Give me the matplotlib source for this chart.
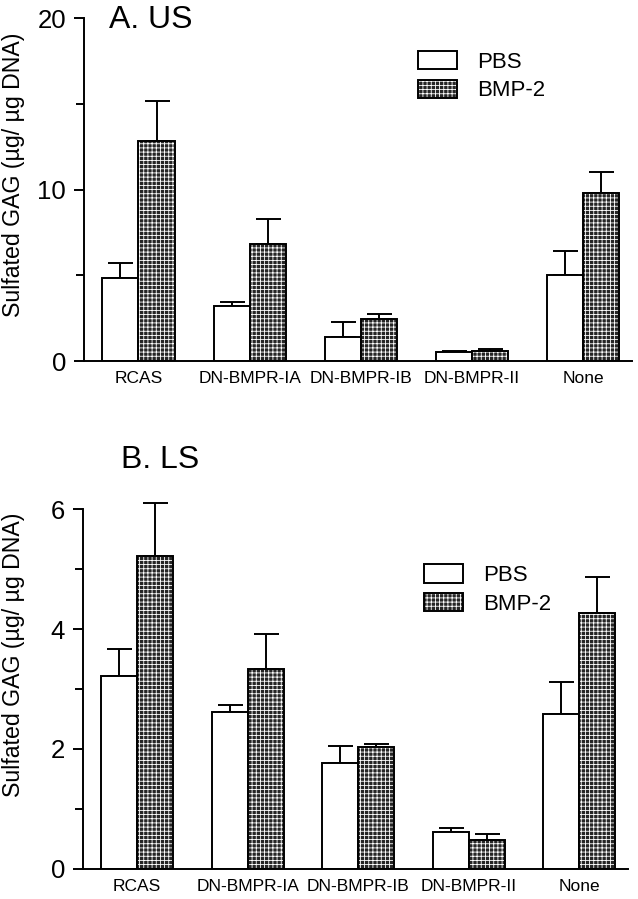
import numpy as np
import matplotlib
matplotlib.use('Agg')
import matplotlib.pyplot as plt
from matplotlib.patches import Patch
from matplotlib.legend_handler import HandlerTuple

plt.rcParams['font.family'] = ['Liberation Sans', 'DejaVu Sans']
plt.rcParams['hatch.linewidth'] = 0.6

# Données
categories = ['RCAS', 'DN-BMPR-IA', 'DN-BMPR-IB', 'DN-BMPR-II', 'None']
us_pbs = [4.85, 3.2, 1.4, 0.5, 5.0]
us_pbs_err = [0.85, 0.25, 0.9, 0.1, 1.4]
us_bmp = [12.85, 6.85, 2.45, 0.6, 9.8]
us_bmp_err = [2.3, 1.45, 0.3, 0.1, 1.25]
ls_pbs = [3.22, 2.62, 1.77, 0.62, 2.58]
ls_pbs_err = [0.45, 0.11, 0.28, 0.06, 0.54]
ls_bmp = [5.22, 3.33, 2.03, 0.48, 4.27]
ls_bmp_err = [0.88, 0.59, 0.05, 0.1, 0.6]

largeur = 0.325
x = np.arange(len(categories))
fig = plt.figure(figsize=(6.38, 8.99), dpi=100)

FOND = '#262626'
MOTIF = '++++'


def panneau(ax, pbs, pbs_err, bmp, bmp_err, ymax, major, minor, titre, pos_titre, pos_leg, pos_label):
    # Barres PBS (blanches)
    ax.bar(x - largeur / 2, pbs, largeur, color='white', edgecolor='black', linewidth=1.4, zorder=2)
    # Barres BMP-2 (motif quadrillé)
    ax.bar(x + largeur / 2, bmp, largeur, color=FOND, edgecolor='white', hatch=MOTIF,
           linewidth=0, zorder=2)
    ax.bar(x + largeur / 2, bmp, largeur, color='none', edgecolor='black', linewidth=1.4, zorder=3)
    # Barres d'erreur (seulement vers le haut)
    ax.errorbar(x - largeur / 2, pbs, yerr=[np.zeros(5), pbs_err], fmt='none', ecolor='black',
                elinewidth=1.4, capsize=9, capthick=1.4, zorder=1, clip_on=False)
    ax.errorbar(x + largeur / 2, bmp, yerr=[np.zeros(5), bmp_err], fmt='none', ecolor='black',
                elinewidth=1.4, capsize=9, capthick=1.4, zorder=1, clip_on=False)

    ax.set_xlim(-0.49, 4.44)
    ax.set_ylim(0, ymax)
    ax.spines['top'].set_visible(False)
    ax.spines['right'].set_visible(False)
    ax.spines['left'].set_linewidth(1.4)
    ax.spines['bottom'].set_linewidth(1.4)
    ax.set_yticks(major)
    ax.set_yticks(minor, minor=True)
    ax.tick_params(axis='y', which='major', length=7, width=1.4, labelsize=18.5, pad=6)
    ax.tick_params(axis='y', which='minor', length=6, width=1.4)
    ax.set_xticks(x)
    ax.set_xticklabels(categories, fontsize=12.5)
    ax.tick_params(axis='x', length=0, pad=7)
    ax.set_ylabel('Sulfated GAG (µg/ µg DNA)', fontsize=16.7)
    ax.yaxis.set_label_coords(*pos_label)
    ax.text(pos_titre[0], pos_titre[1], titre, transform=ax.transAxes, fontsize=23,
            ha='left', va='center')

    h_pbs = Patch(facecolor='white', edgecolor='black', linewidth=1.4)
    h_bmp = (Patch(facecolor=FOND, edgecolor='white', hatch=MOTIF, linewidth=0),
             Patch(facecolor='none', edgecolor='black', linewidth=1.4))
    ax.legend([h_pbs, h_bmp], ['PBS', 'BMP-2'], handler_map={tuple: HandlerTuple(ndivide=1, pad=0)},
              loc='upper left', bbox_to_anchor=pos_leg, frameon=False, fontsize=16,
              handlelength=1.75, handleheight=0.9, handletextpad=0.9, labelspacing=0.3,
              borderaxespad=0, borderpad=0)


# A. US
ax1 = fig.add_axes([0.1317, 0.5984, 0.859, 0.3815])
panneau(ax1, us_pbs, us_pbs_err, us_bmp, us_bmp_err, 20, [0, 10, 20], [5, 15],
        'A. US', (0.045, 0.995), (0.609, 0.904), (-0.108, 0.542))

# B. LS
ax2 = fig.add_axes([0.130, 0.0334, 0.854, 0.4004])
panneau(ax2, ls_pbs, ls_pbs_err, ls_bmp, ls_bmp_err, 6, [0, 2, 4, 6], [1, 3, 5],
        'B. LS', (0.07, 1.135), (0.626, 0.847), (-0.106, 0.594))

fig.savefig('out.png', dpi=100)
